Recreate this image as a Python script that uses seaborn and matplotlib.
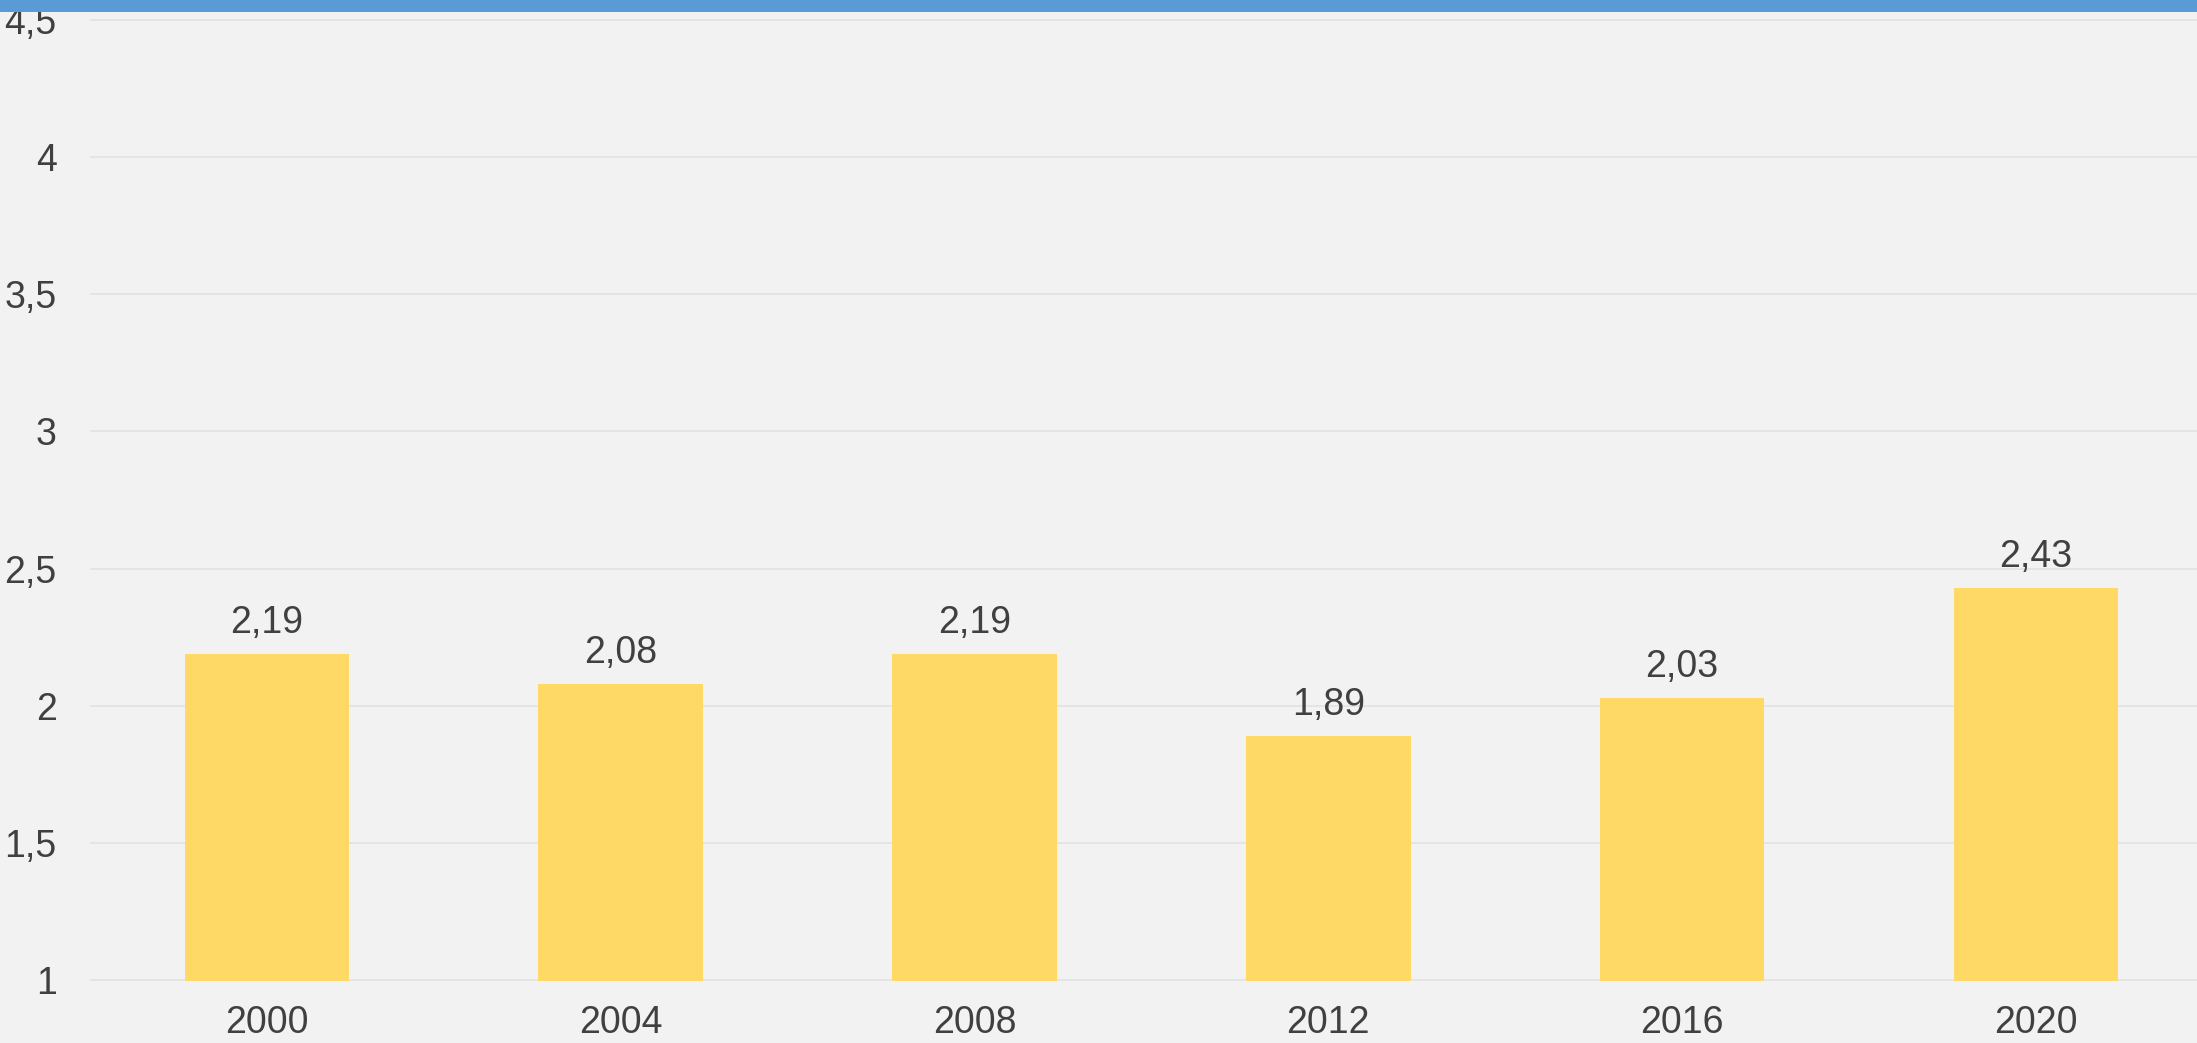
import matplotlib
matplotlib.use("Agg")
import matplotlib.pyplot as plt
from matplotlib.patches import Rectangle
from matplotlib.ticker import FuncFormatter, MultipleLocator
import seaborn as sns
import pandas as pd

# data
years = ["2000", "2004", "2008", "2012", "2016", "2020"]
values = [2.19, 2.08, 2.19, 1.89, 2.03, 2.43]

df = pd.DataFrame({"year": years, "value": values})

bg = "#f2f2f2"
text_col = "#404040"

sns.set_theme(style="whitegrid")
plt.rcParams["font.family"] = ["Liberation Sans Narrow", "Liberation Sans", "DejaVu Sans"]

W, H = 2197, 1043
fig = plt.figure(figsize=(W / 100, H / 100), dpi=100)
fig.patch.set_facecolor(bg)

# axes placed in pixel coords: left 90, bottom 981 px from top, top 12 px
left, right, top, bottom = 90, W, 12, 981
ax = fig.add_axes([left / W, 1 - bottom / H, (right - left) / W, (bottom - top) / H])
ax.set_facecolor(bg)

sns.barplot(data=df, x="year", y="value", color="#FFD966", width=0.465,
            saturation=1, linewidth=0, ax=ax, zorder=2)

px_per_unit = 274.6
ax.set_ylim(0.997, 1 + (bottom - top) / px_per_unit)
ax.set_xlim(-0.5, -0.5 + (right - left) / 353.8)

ax.yaxis.set_major_locator(MultipleLocator(0.5))
ax.yaxis.set_major_formatter(FuncFormatter(lambda v, p: f"{v:g}".replace(".", ",")))

ax.grid(axis="y", color="#e0e0e0", linewidth=1.1)
ax.grid(axis="x", visible=False)
for s in ax.spines.values():
    s.set_visible(False)

ax.tick_params(axis="both", length=0, labelsize=27, colors=text_col)
ax.tick_params(axis="y", pad=24)
ax.tick_params(axis="x", pad=17)
ax.set_xlabel("")
ax.set_ylabel("")

for i, v in enumerate(values):
    ax.annotate(f"{v:.2f}".replace(".", ","), (i, v), xytext=(0, 9),
                textcoords="offset points", ha="center", va="bottom",
                fontsize=27, color=text_col)

# blue band on top
fig.patches.append(Rectangle((0, 1 - 12 / H), 1, 12 / H, transform=fig.transFigure,
                             facecolor="#5B9BD5", edgecolor="none", zorder=10))

fig.savefig("out.png", dpi=100, facecolor=bg)
